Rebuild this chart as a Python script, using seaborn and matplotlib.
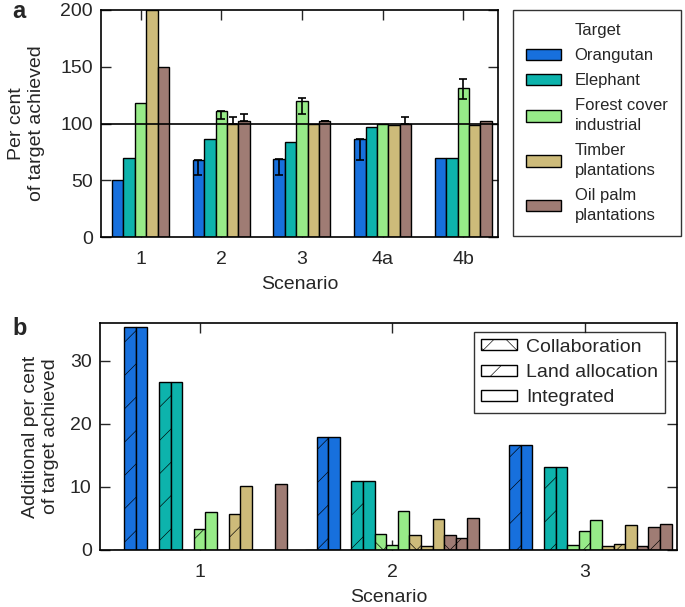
import matplotlib
matplotlib.use("Agg")
import matplotlib.pyplot as plt
from matplotlib.patches import Patch
import seaborn as sns
import pandas as pd
import numpy as np

# ---------------- data ----------------
scenarios_a = ['1', '2', '3', '4a', '4b']
targets = ['Orangutan', 'Elephant', 'Forest cover\nindustrial',
           'Timber\nplantations', 'Oil palm\nplantations']
target_colors = ['#1770DD', '#0DB3AC', '#97EB88', '#CDBB7A', '#9F7C74']

orangutan_a = [50, 68, 69, 86, 70]
elephant_a = [70, 86, 84, 97, 70]
forest_a = [118, 111, 120, 100, 131]
timber_a = [200, 100, 100, 99, 99]
oilpalm_a = [150, 102, 102, 100, 102]

# asymmetric error bars (lower, upper) per target, per scenario
orangutan_err_lo = [0, 13, 14, 18, 0]
orangutan_err_hi = [0, 0, 0, 0, 0]
elephant_err_lo = [0, 0, 0, 0, 0]
elephant_err_hi = [0, 0, 0, 0, 0]
forest_err_lo = [0, 7, 12, 0, 9.5]
forest_err_hi = [0, 0, 2.5, 0, 8.5]
timber_err_lo = [0, 0, 0, 0, 0]
timber_err_hi = [0, 5.5, 0, 0, 0]
oilpalm_err_lo = [0, 0, 0, 0, 0]
oilpalm_err_hi = [0, 6, 0.5, 5.5, 0]

scenarios_b = ['1', '2', '3']
types = ['Collaboration', 'Land allocation', 'Integrated']
type_hatches = ['x', '/', '']

orangutan_collab = [0, 0, 0]
orangutan_land = [35.4, 17.9, 16.7]
orangutan_integ = [35.4, 17.9, 16.7]
elephant_collab = [0, 0, 0]
elephant_land = [26.7, 10.9, 13.1]
elephant_integ = [26.7, 10.9, 13.1]
forest_collab = [0, 2.5, 0.75]
forest_land = [3.3, 0.85, 3.05]
forest_integ = [5.95, 6.2, 4.7]
timber_collab = [0, 2.3, 0.6]
timber_land = [5.7, 0.7, 0.95]
timber_integ = [10.1, 4.9, 4.0]
oilpalm_collab = [0, 2.3, 0.65]
oilpalm_land = [0, 1.95, 3.7]
oilpalm_integ = [10.4, 5.0, 4.2]

# ---------------- style ----------------
sns.set_style('ticks')
plt.rcParams['font.family'] = ['Liberation Sans', 'DejaVu Sans']
plt.rcParams['hatch.linewidth'] = 0.45
plt.rcParams['hatch.color'] = '#555555'

fig = plt.figure(figsize=(6.85, 6.07), dpi=100)
W, H = 685.0, 607.0
ax_a = fig.add_axes([101 / W, 1 - 237 / H, (498 - 101) / W, 227 / H])
ax_b = fig.add_axes([100 / W, 1 - 550 / H, (677 - 100) / W, 227 / H])

# ---------------- panel a ----------------
vals_a = [orangutan_a, elephant_a, forest_a, timber_a, oilpalm_a]
rows = []
for t, vals in zip(targets, vals_a):
    for s, v in zip(scenarios_a, vals):
        rows.append({'Scenario': s, 'Target': t, 'Value': v})
df_a = pd.DataFrame(rows)

sns.barplot(data=df_a, x='Scenario', y='Value', hue='Target', order=scenarios_a,
            hue_order=targets, palette=dict(zip(targets, target_colors)),
            width=0.705, saturation=1, edgecolor='black', linewidth=1.0,
            errorbar=None, legend=False, ax=ax_a)

err_lo = [orangutan_err_lo, elephant_err_lo, forest_err_lo, timber_err_lo, oilpalm_err_lo]
err_hi = [orangutan_err_hi, elephant_err_hi, forest_err_hi, timber_err_hi, oilpalm_err_hi]
for cont, lo, hi in zip(ax_a.containers, err_lo, err_hi):
    for bar, l, h in zip(cont, lo, hi):
        if l == 0 and h == 0:
            continue
        xc = bar.get_x() + bar.get_width() / 2
        ax_a.errorbar([xc], [bar.get_height()], yerr=[[l], [h]], fmt='none',
                      ecolor='black', elinewidth=1.2, capsize=3, capthick=1.2, zorder=5)

ax_a.axhline(100, color='black', linewidth=1.2, zorder=6)
ax_a.set_ylim(0, 200)
ax_a.set_yticks([0, 50, 100, 150, 200])
ax_a.set_xlim(-0.49, 4.43)
ax_a.set_xlabel('Scenario', fontsize=14, labelpad=6)
ax_a.set_ylabel('Per cent\nof target achieved', fontsize=14, labelpad=11)

# legend a: title as first (invisible) entry so it aligns with labels
leg_handles = [Patch(facecolor='none', edgecolor='none')]
leg_handles += [Patch(facecolor=c, edgecolor='black', linewidth=1.0) for c in target_colors]
leg_a = ax_a.legend(leg_handles, ['Target'] + targets, loc='upper left',
                    bbox_to_anchor=(513 / W, 1 - 10 / H), bbox_transform=fig.transFigure,
                    borderaxespad=0, fontsize=12, frameon=True, fancybox=False,
                    edgecolor='black', handlelength=2.1, handleheight=0.7,
                    handletextpad=0.8, labelspacing=0.6, borderpad=0.8)
for t in leg_a.get_texts():
    t.set_linespacing(1.4)
leg_a.get_frame().set_linewidth(1.0)

# ---------------- panel b ----------------
vals_b = [[orangutan_collab, orangutan_land, orangutan_integ],
          [elephant_collab, elephant_land, elephant_integ],
          [forest_collab, forest_land, forest_integ],
          [timber_collab, timber_land, timber_integ],
          [oilpalm_collab, oilpalm_land, oilpalm_integ]]
rows = []
hue_levels = []
pal_b = {}
hatch_b = {}
for t, c, group in zip(targets, target_colors, vals_b):
    for ty, hatch, vals in zip(types, type_hatches, group):
        key = t + ' | ' + ty
        hue_levels.append(key)
        pal_b[key] = c
        hatch_b[key] = hatch
        for s, v in zip(scenarios_b, vals):
            rows.append({'Scenario': s, 'Combo': key, 'Value': v})
df_b = pd.DataFrame(rows)

sns.barplot(data=df_b, x='Scenario', y='Value', hue='Combo', order=scenarios_b,
            hue_order=hue_levels, palette=pal_b, width=0.904, saturation=1,
            edgecolor='black', linewidth=1.0, errorbar=None, legend=False, ax=ax_b)
for cont, key in zip(ax_b.containers, hue_levels):
    for bar in cont:
        bar.set_hatch(hatch_b[key])

ax_b.set_ylim(0, 36)
ax_b.set_yticks([0, 10, 20, 30])
ax_b.set_xlim(-0.517, 2.48)
ax_b.set_xlabel('Scenario', fontsize=14, labelpad=6)
ax_b.set_ylabel('Additional per cent\nof target achieved', fontsize=14, labelpad=8)

leg_b_handles = [Patch(facecolor='white', edgecolor='black', hatch=h, linewidth=1.0)
                 for h in type_hatches]
leg_b = ax_b.legend(leg_b_handles, types, loc='upper right',
                    bbox_to_anchor=(665 / W, 1 - 332 / H), bbox_transform=fig.transFigure,
                    borderaxespad=0, fontsize=14, frameon=True, fancybox=False,
                    edgecolor='black', handlelength=1.9, handleheight=0.5,
                    handletextpad=0.45, labelspacing=0.42, borderpad=0.35)
leg_b.get_frame().set_linewidth(1.0)

for ax in (ax_a, ax_b):
    ax.tick_params(direction='in', length=7, width=1.0, top=True, right=True,
                   labelsize=14, pad=6)
    ax.tick_params(axis='x', pad=10)
    for sp in ax.spines.values():
        sp.set_visible(True)
        sp.set_linewidth(1.2)
        sp.set_color('black')

fig.text(12 / W, 1 - 18 / H, 'a', fontsize=17, fontweight='bold')
fig.text(12 / W, 1 - 335 / H, 'b', fontsize=17, fontweight='bold')

fig.savefig('out.png', dpi=100)
